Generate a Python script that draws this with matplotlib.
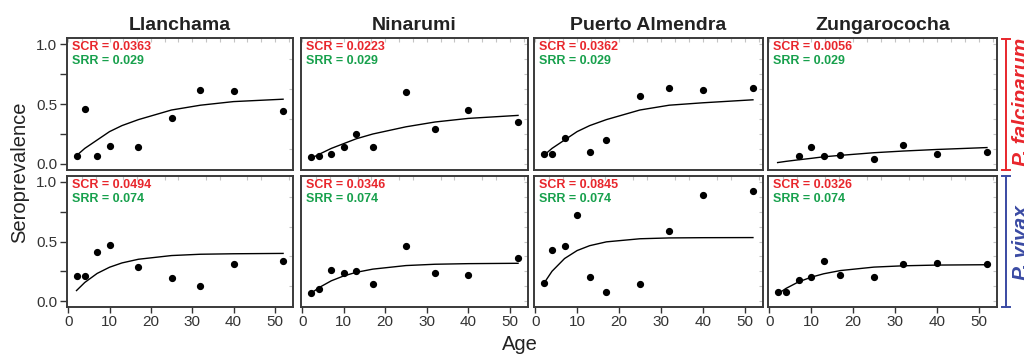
import matplotlib
matplotlib.use("Agg")
import matplotlib.pyplot as plt
from matplotlib.lines import Line2D
from matplotlib.ticker import MultipleLocator, FixedLocator

plt.rcParams['font.family'] = ['Liberation Sans', 'DejaVu Sans']

# === DATA ===
sites = ["Llanchama", "Ninarumi", "Puerto Almendra", "Zungarococha"]

# P. falciparum (top row)
pf_ages = [
    [2, 4, 7, 10, 17, 25, 32, 40, 52],
    [2, 4, 7, 10, 13, 17, 25, 32, 40, 52],
    [2, 4, 7, 13, 17, 25, 32, 40, 52],
    [7, 10, 13, 17, 25, 32, 40, 52],
]
pf_obs = [
    [0.07, 0.46, 0.07, 0.15, 0.14, 0.38, 0.62, 0.61, 0.44],
    [0.06, 0.07, 0.08, 0.14, 0.25, 0.14, 0.60, 0.29, 0.45, 0.35],
    [0.08, 0.08, 0.22, 0.10, 0.20, 0.57, 0.63, 0.62, 0.63],
    [0.07, 0.14, 0.07, 0.075, 0.04, 0.155, 0.08, 0.10],
]
pf_scr = ["0.0363", "0.0223", "0.0362", "0.0056"]
pf_srr = "0.029"

# P. vivax (bottom row)
pv_ages = [
    [2, 4, 7, 10, 17, 25, 32, 40, 52],
    [2, 4, 7, 10, 13, 17, 25, 32, 40, 52],
    [2, 4, 7, 10, 13, 17, 25, 32, 40, 52],
    [2, 4, 7, 10, 13, 17, 25, 32, 40, 52],
]
pv_obs = [
    [0.21, 0.21, 0.41, 0.47, 0.29, 0.195, 0.125, 0.31, 0.34],
    [0.07, 0.105, 0.26, 0.235, 0.255, 0.145, 0.46, 0.235, 0.215, 0.36],
    [0.155, 0.43, 0.46, 0.72, 0.205, 0.075, 0.145, 0.585, 0.89, 0.925],
    [0.08, 0.08, 0.175, 0.205, 0.34, 0.22, 0.205, 0.31, 0.32, 0.31],
]
pv_scr = ["0.0494", "0.0346", "0.0845", "0.0326"]
pv_srr = "0.074"

# fitted curves
curve_ages = [2, 4, 7, 10, 13, 17, 25, 32, 40, 52]
pf_fit = [
    [0.07, 0.13, 0.20, 0.27, 0.32, 0.37, 0.45, 0.49, 0.52, 0.54],
    [0.045, 0.08, 0.13, 0.17, 0.21, 0.25, 0.31, 0.35, 0.38, 0.405],
    [0.07, 0.13, 0.20, 0.27, 0.32, 0.37, 0.45, 0.49, 0.51, 0.535],
    [0.012, 0.022, 0.035, 0.047, 0.06, 0.072, 0.094, 0.108, 0.121, 0.137],
]
pv_fit = [
    [0.088, 0.156, 0.232, 0.284, 0.32, 0.351, 0.382, 0.393, 0.397, 0.40],
    [0.062, 0.112, 0.17, 0.211, 0.241, 0.268, 0.298, 0.309, 0.314, 0.317],
    [0.145, 0.25, 0.357, 0.424, 0.465, 0.497, 0.523, 0.53, 0.532, 0.533],
    [0.059, 0.106, 0.161, 0.20, 0.229, 0.256, 0.285, 0.296, 0.302, 0.305],
]

# === STYLE ===
RED = '#e8262c'
GREEN = '#17a04c'
BLUE = '#3a4aa3'
FRAME = '#3a3a3a'
TICKC = '#333333'

W, H = 1024, 356
fig = plt.figure(figsize=(W / 100, H / 100), dpi=100)

col_px = [(67, 293), (301, 528), (534, 763), (768, 997)]
row_px = [(38, 170), (176, 307)]

rows = [
    (pf_ages, pf_obs, pf_fit, pf_scr, pf_srr),
    (pv_ages, pv_obs, pv_fit, pv_scr, pv_srr),
]

for r, (ages, obs, fit, scr, srr) in enumerate(rows):
    top, bot = row_px[r]
    for c in range(4):
        l, rt = col_px[c]
        ax = fig.add_axes([l / W, 1 - bot / H, (rt - l) / W, (bot - top) / H])
        ax.plot(curve_ages, fit[c], color='black', lw=1.0, zorder=2)
        ax.plot(ages[c], obs[c], 'o', color='black', ms=4.2, zorder=3)
        ax.set_xlim(-0.3, 54.4)
        ax.set_ylim(-0.05, 1.05)

        for s in ax.spines.values():
            s.set_color(FRAME)
            s.set_linewidth(1.4)

        ax.text(0.022, 0.93, "SCR = " + scr[c], transform=ax.transAxes,
                color=RED, fontsize=9, fontweight='bold', va='center', ha='left')
        ax.text(0.022, 0.825, "SRR = " + srr, transform=ax.transAxes,
                color=GREEN, fontsize=9, fontweight='bold', va='center', ha='left')

        # faint inner ticks on top / right
        ax.xaxis.set_minor_locator(MultipleLocator(10 / 3))
        ax.yaxis.set_minor_locator(MultipleLocator(0.125))
        ax.tick_params(which='minor', top=True, bottom=False, right=True, left=False,
                       direction='in', length=3, color='#c4c4c4', width=0.8)

        # y axis
        if c == 0:
            ax.yaxis.set_major_locator(FixedLocator([0, 0.25, 0.5, 0.75, 1.0]))
            ax.set_yticklabels(["0.0", "", "0.5", "", "1.0"])
            ax.tick_params(axis='y', which='major', left=True, direction='out',
                           length=5, width=1, color=TICKC, labelcolor=TICKC,
                           labelsize=11, pad=2)
        else:
            ax.yaxis.set_major_locator(FixedLocator([]))

        # x axis
        if r == 1:
            ax.xaxis.set_major_locator(FixedLocator([0, 10, 20, 30, 40, 50]))
            ax.tick_params(axis='x', which='major', bottom=True, direction='out',
                           length=4, width=1, color=TICKC, labelcolor=TICKC,
                           labelsize=11, pad=2)
        else:
            ax.xaxis.set_major_locator(FixedLocator([]))
            ax.set_title(sites[c], fontsize=14, fontweight='bold', color='#222222', pad=6)

fig.text(20 / W, 1 - 172 / H, "Seroprevalence", rotation=90, ha='center', va='center',
         fontsize=14.5, color='#222222')
fig.text(520 / W, 1 - 345 / H, "Age", ha='center', va='center', fontsize=14.5, color='#222222')

# species brackets on the right
def bracket(x, y0, y1, color):
    fx = x / W
    fig.add_artist(Line2D([fx, fx], [1 - y0 / H, 1 - y1 / H], color=color, lw=1.4))
    for y in (y0, y1):
        fig.add_artist(Line2D([(x - 4) / W, (x + 4) / W], [1 - y / H, 1 - y / H],
                              color=color, lw=1.4))

bracket(1006, 38.5, 170, RED)
bracket(1006, 176, 306.5, BLUE)

fig.text(1012 / W, 1 - 102 / H, "P. falciparum", rotation=90, ha='left', va='center',
         fontsize=15, fontweight='bold', fontstyle='italic', color=RED)
fig.text(1012 / W, 1 - 243 / H, "P. vivax", rotation=90, ha='left', va='center',
         fontsize=15, fontweight='bold', fontstyle='italic', color=BLUE)

fig.savefig("out.png", dpi=100)
